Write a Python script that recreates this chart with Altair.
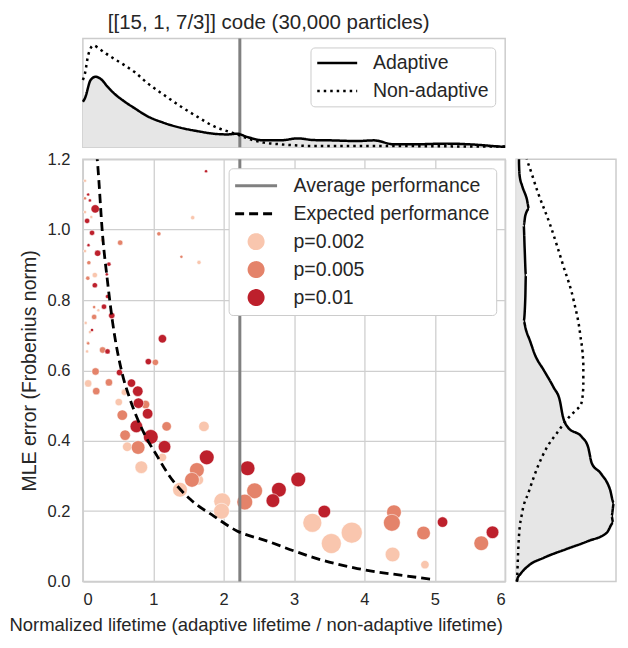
import altair as alt
import pandas as pd

FONT = "Liberation Sans"
TXT = "#262626"

# ---------------- scatter points (normalized lifetime, MLE error, marker weight) -------------
p002_x = [0.03, 0.03, 0.12, 0.28, 0.03, 0.17, 1.56, 1.65, 0.22, 0.04, 0.10, 0.07, 0.06, 0.075,
          0.59, 0.51, 1.72, 0.63, 1.13, 0.83, 1.64, 1.38, 1.98, 1.97, 3.26, 3.53, 3.82, 4.40, 4.86]
p002_y = [1.139, 1.050, 1.036, 0.970, 0.939, 0.871, 1.034, 0.907, 0.771, 0.735, 0.709, 0.679, 0.654,
          0.563, 0.538, 0.510, 0.441, 0.383, 0.353, 0.325, 0.289, 0.261, 0.228, 0.200, 0.167, 0.108,
          0.139, 0.077, 0.048]
p002_w = [3, 3, 3, 4, 3, 5, 4, 4, 3, 3, 3, 3, 3, 7, 6, 7, 10, 9, 8, 12, 10, 14, 16, 15, 18, 19, 20, 14, 8]

p005_x = [0.03, 0.53, 1.08, 0.085, 1.40, 0.07, 0.16, 0.16, 0.075, 0.28, 1.03, 0.18, 0.37, 0.19,
          0.89, 0.56, 1.19, 0.60, 0.785, 1.62, 1.55, 2.44, 2.30, 4.42, 4.39, 4.84, 5.66]
p005_y = [1.089, 0.963, 0.988, 0.906, 0.923, 0.862, 0.780, 0.752, 0.677, 0.658, 0.623, 0.597, 0.566,
          0.541, 0.503, 0.473, 0.441, 0.416, 0.381, 0.317, 0.289, 0.258, 0.226, 0.197, 0.167, 0.138, 0.109]
p005_w = [3, 5, 4, 4, 3, 4, 3, 5, 3, 6, 6, 7, 7, 7, 8, 10, 9, 10, 13, 14, 14, 15, 15, 14, 16, 13, 14]

p01_x = [1.75, 0.075, 0.10, 0.175, 0.06, 0.13, 0.08, 0.21, 0.37, 0.34, 0.17, 0.35, 0.30, 0.41, 0.13,
         1.13, 0.35, 0.93, 0.52, 0.69, 0.78, 0.79, 0.92, 0.76, 0.965, 1.16, 1.76, 2.34, 2.785, 2.70,
         3.06, 3.43, 5.11, 5.82]
p01_y = [1.166, 1.100, 1.083, 1.059, 1.025, 0.991, 0.956, 0.933, 0.902, 0.873, 0.842, 0.810, 0.781,
         0.756, 0.715, 0.690, 0.654, 0.625, 0.594, 0.564, 0.541, 0.507, 0.477, 0.441, 0.411, 0.383,
         0.353, 0.322, 0.261, 0.230, 0.290, 0.199, 0.169, 0.140]
p01_w = [3, 3, 3, 8, 5, 5, 3, 6, 4, 3, 5, 4, 5, 6, 3, 8, 5, 6, 6, 8, 10, 10, 10, 12, 14, 12, 14, 14,
         14, 13, 14, 12, 10, 12]

# ---------------- reference curves -------------
avg_x = [2.23]
exp_x = [0.195, 0.21, 0.28, 0.35, 0.42, 0.56, 0.66, 0.87, 1.06, 1.22, 1.53, 1.86, 2.19, 2.62, 3.0,
         3.28, 3.90, 4.56, 4.98]
exp_y = [1.22, 1.186, 0.984, 0.853, 0.740, 0.590, 0.524, 0.421, 0.355, 0.303, 0.233, 0.186, 0.144,
         0.115, 0.087, 0.068, 0.037, 0.017, 0.006]

# ---------------- marginal densities -------------
top_x_adapt = [0.0, 0.03, 0.11, 0.18, 0.26, 0.35, 0.44, 0.59, 0.73, 0.92, 1.15, 1.39, 1.63, 1.86,
               2.05, 2.19, 2.34, 2.57, 2.81, 3.05, 3.28, 3.52, 3.90, 4.13, 4.42, 4.70, 5.17, 5.65,
               5.93, 6.0]
top_d_adapt = [46, 49.7, 68, 71.3, 68.7, 61.3, 54.7, 46.3, 39.7, 31.3, 24.7, 19.7, 16.3, 13.7, 13,
               13.7, 10.3, 7, 7, 9, 7.3, 7, 6.3, 7, 3, 3, 3.7, 2.3, 0.7, 0.5]
top_x_non = [0.0, 0.03, 0.075, 0.15, 0.23, 0.33, 0.44, 0.59, 0.73, 0.92, 1.15, 1.39, 1.63, 1.86,
             2.05, 2.19, 2.38, 2.57, 2.81, 3.28, 4.23, 5.95, 6.0]
top_d_non = [68, 74.7, 93, 103, 99.7, 94.7, 89.7, 83, 76.3, 64.7, 53, 41.3, 30.7, 21.3, 16.3, 13, 8,
             4.7, 3, 1.3, 1.3, 0.7, 0.7]

right_y_adapt = [1.2, 1.191, 1.153, 1.125, 1.087, 1.059, 1.040, 1.012, 0.947, 0.871, 0.806, 0.740,
                 0.716, 0.684, 0.646, 0.599, 0.552, 0.515, 0.468, 0.439, 0.411, 0.383, 0.336, 0.308,
                 0.261, 0.223, 0.186, 0.167, 0.139, 0.115, 0.092, 0.068, 0.045, 0.022, 0.008, 0.0]
right_d_adapt = [3, 3, 3.7, 6.3, 11.3, 13.7, 9.7, 8, 9, 10.3, 9.7, 8, 10.3, 14.7, 19.7, 29.7, 39.7,
                 46.3, 49.7, 54.7, 69.7, 76.3, 80.3, 89.7, 99.7, 103.7, 101.3, 103, 96.3, 76.3, 53,
                 29.7, 13, 4.7, 1.3, 0.5]
right_y_non = [1.2, 1.186, 1.106, 1.012, 0.900, 0.796, 0.702, 0.618, 0.552, 0.505, 0.486, 0.463,
               0.421, 0.383, 0.327, 0.252, 0.195, 0.130, 0.026, 0.0]
right_d_non = [11, 13, 23, 36.3, 49.7, 61.3, 68, 71.3, 71.3, 69, 63, 54.7, 43, 33, 23, 13, 6.3, 3,
               1.3, 1]

cats = ["Average performance", "Expected performance", "p=0.002", "p=0.005", "p=0.01"]
kinds = ["Adaptive", "Non-adaptive"]

PEACH, SALMON, RED = "#f9c6ae", "#e4836a", "#bd202c"
GRAY = "#808080"
FILLGRAY = "#e6e6e6"

# ---------------- tables -------------
scatter_df = pd.concat([
    pd.DataFrame({"x": p002_x, "y": p002_y, "w": p002_w, "cat": "p=0.002"}),
    pd.DataFrame({"x": p005_x, "y": p005_y, "w": p005_w, "cat": "p=0.005"}),
    pd.DataFrame({"x": p01_x, "y": p01_y, "w": p01_w, "cat": "p=0.01"}),
], ignore_index=True)
scatter_df["order"] = range(len(scatter_df))
avg_df = pd.DataFrame({"x": avg_x})
exp_df = pd.DataFrame({"x": exp_x, "y": exp_y})
top_adapt_df = pd.DataFrame({"x": top_x_adapt, "d": top_d_adapt, "kind": "Adaptive"})
top_df = pd.concat([top_adapt_df,
                    pd.DataFrame({"x": top_x_non, "d": top_d_non, "kind": "Non-adaptive"})],
                   ignore_index=True)
right_adapt_df = pd.DataFrame({"y": right_y_adapt, "d": right_d_adapt, "kind": "Adaptive"})
right_df = pd.concat([right_adapt_df,
                      pd.DataFrame({"y": right_y_non, "d": right_d_non, "kind": "Non-adaptive"})],
                     ignore_index=True)

MAIN_H = 423
TOP_H = 109
RIGHT_W = 100

# ---------------- main panel -------------
xscale = alt.Scale(domain=[0, 6], nice=False, zero=False)
yscale = alt.Scale(domain=[0, 1.2], nice=False)
X = alt.X("x:Q", scale=xscale, title="Normalized lifetime (adaptive lifetime / non-adaptive lifetime)",
          axis=alt.Axis(values=[0, 1, 2, 3, 4, 5, 6], format="d", ticks=False, domain=False,
                        labelFontSize=16.5, labelPadding=10, titleFontSize=18.5,
                        titleFontWeight="normal", titlePadding=8, titleX=-74, titleAlign="left"))
Y = alt.Y("y:Q", scale=yscale, title="MLE error (Frobenius norm)",
          axis=alt.Axis(values=[0, 0.2, 0.4, 0.6, 0.8, 1.0, 1.2], format=".1f", ticks=False,
                        domain=False, labelFontSize=16.5, labelPadding=13, titleFontSize=19.5,
                        titleFontWeight="normal", titlePadding=8))

main_legend = alt.Legend(orient="none", legendX=146, legendY=9, padding=6, rowPadding=5,
                         clipHeight=23, labelFontSize=19.5, labelColor=TXT, labelFont=FONT,
                         labelLimit=400, symbolSize=400, symbolStrokeWidth=3, symbolOffset=10,
                         labelOffset=26, fillColor="white", strokeColor="#cccccc", cornerRadius=4)
LINE_PATH = "M-2.1,0H2.1"

pts = alt.Chart(scatter_df).mark_point(filled=True, opacity=1, strokeWidth=0.6).encode(
    x=X, y=Y,
    fill=alt.Fill("cat:N", title=None, legend=main_legend,
                  scale=alt.Scale(domain=cats, range=[GRAY, "black", PEACH, SALMON, RED])),
    stroke=alt.Stroke("cat:N", title=None, legend=main_legend,
                      scale=alt.Scale(domain=cats, range=[GRAY, "black", "white", "white", "white"])),
    shape=alt.Shape("cat:N", title=None, legend=main_legend,
                    scale=alt.Scale(domain=cats, range=[LINE_PATH, LINE_PATH, "circle", "circle", "circle"])),
    strokeDash=alt.StrokeDash("cat:N", title=None, legend=main_legend,
                              scale=alt.Scale(domain=cats, range=[[1, 0], [9, 5], [1, 0], [1, 0], [1, 0]])),
    size=alt.Size("w:Q", legend=None,
                  scale=alt.Scale(type="pow", exponent=2, domain=[0, 20], range=[0, 440])),
    order=alt.Order("order:Q"),
)
avg_rule = alt.Chart(avg_df).mark_rule(color=GRAY, strokeWidth=3).encode(x=X)
exp_line = alt.Chart(exp_df).mark_line(color="black", strokeWidth=2.8, strokeDash=[9, 5],
                                       interpolate="monotone", clip=True).encode(x=X, y=Y)
main = alt.layer(pts, avg_rule, exp_line).properties(width=423, height=MAIN_H)

# ---------------- top marginal -------------
dash_scale = alt.Scale(domain=kinds, range=[[1, 0], [2.5, 4]])
TX = alt.X("x:Q", scale=xscale, axis=None)
TY = alt.Y("d:Q", scale=alt.Scale(domain=[0, 110], nice=False), axis=None)
top_area = alt.Chart(top_adapt_df).mark_area(color=FILLGRAY, interpolate="monotone").encode(x=TX, y=TY)
top_lines = alt.Chart(top_df).mark_line(color="black", strokeWidth=2.5, interpolate="monotone").encode(
    x=TX, y=TY,
    strokeDash=alt.StrokeDash("kind:N", title=None, scale=dash_scale,
                              legend=alt.Legend(orient="none", legendX=228, legendY=9, padding=6,
                                                rowPadding=8, clipHeight=19, labelFontSize=19.5,
                                                labelColor=TXT, labelFont=FONT, labelLimit=400,
                                                symbolType="M-4,0H4", symbolSize=100,
                                                symbolStrokeWidth=2.5, symbolStrokeColor="black",
                                                symbolOffset=11, labelOffset=26, fillColor="white",
                                                strokeColor="#cccccc", cornerRadius=4)))
top_rule = alt.Chart(avg_df).mark_rule(color=GRAY, strokeWidth=3).encode(x=TX)
top = alt.layer(top_area, top_rule, top_lines).properties(
    width=423, height=TOP_H,
    title=alt.TitleParams("[[15, 1, 7/3]] code (30,000 particles)", anchor="start", dx=25,
                          frame="group", fontSize=20.5, fontWeight="normal", offset=3,
                          color=TXT, font=FONT))

# ---------------- right marginal -------------
RX = alt.X("d:Q", scale=alt.Scale(domain=[0, 106], nice=False), axis=None)
RY = alt.Y("y:Q", scale=yscale, axis=None)
right_area = alt.Chart(right_adapt_df).mark_area(color=FILLGRAY, orient="horizontal",
                                                 interpolate="monotone").encode(x=RX, y=RY)
right_lines = alt.Chart(right_df).mark_line(color="black", strokeWidth=2.5, interpolate="monotone").encode(
    x=RX, y=RY, order=alt.Order("y:Q"),
    strokeDash=alt.StrokeDash("kind:N", scale=dash_scale, legend=None))
right = alt.layer(right_area, right_lines).properties(width=RIGHT_W, height=MAIN_H)

# ---------------- empty corner -------------
blank = alt.Chart(pd.DataFrame({"x": [0]})).mark_point(opacity=0, size=1).encode(
    x=alt.X("x:Q", axis=None, scale=alt.Scale(domain=[0, 1])),
    y=alt.Y("x:Q", axis=None, scale=alt.Scale(domain=[0, 1]))
).properties(width=RIGHT_W, height=TOP_H, view=alt.ViewBackground(stroke="transparent"))

chart = alt.concat(top, blank, main, right, columns=2, spacing={"row": 12, "column": 11},
                   bounds="flush", align="each").resolve_scale(
    x="independent", y="independent", strokeDash="independent", fill="independent",
    stroke="independent", shape="independent", size="independent"
).resolve_legend(
    strokeDash="independent", fill="independent", stroke="independent", shape="independent"
).properties(padding={"top": 4, "left": 0, "right": 0, "bottom": 0}).configure(font=FONT).configure_view(
    stroke="#cccccc", strokeWidth=1.5
).configure_axis(
    labelFont=FONT, titleFont=FONT, labelColor=TXT, titleColor=TXT, gridColor="#cfcfcf", gridWidth=1.3
)

chart.save("out.html", embed_options={"renderer": "svg", "actions": False})
